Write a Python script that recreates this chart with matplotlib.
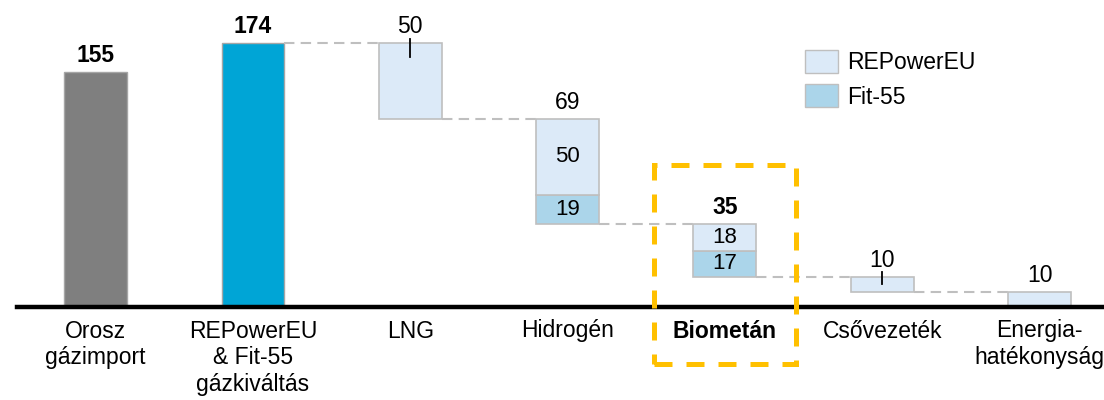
import matplotlib
matplotlib.use("Agg")
import matplotlib.pyplot as plt
from matplotlib.patches import Rectangle, Patch

plt.rcParams['font.family'] = ['Liberation Sans', 'DejaVu Sans']

# data
categories = ['Orosz\ngázimport', 'REPowerEU\n& Fit-55\ngázkiváltás', 'LNG',
              'Hidrogén', 'Biometán', 'Csővezeték', 'Energia-\nhatékonyság']
orosz_import = 155
substitution_total = 174
repower = [50, 50, 18, 10, 10]     # LNG, Hidrogén, Biometán, Csővezeték, Energia
fit55 = [0, 19, 17, 0, 0]
tick_marks = [True, False, False, True, False]
highlight = 4

c_grey = '#7f7f7f'
c_blue = '#00a5d6'
c_rep = '#dceaf8'
c_fit = '#abd5ea'
c_edge = '#bfbfbf'
c_gold = '#ffc000'
fs = 16.5
w = 0.4

fig = plt.figure(figsize=(11.04, 4), dpi=100)
ax = fig.add_axes([17/1104, 93/400, 1087/1104, 307/400])
ax.set_xlim(-0.5, 6.41)
ax.set_ylim(0, 202.4)

# start bars
ax.bar(0, orosz_import, width=w, color=c_grey, edgecolor='#a6a6a6', linewidth=1)
ax.bar(1, substitution_total, width=w, color=c_blue, edgecolor='#a6a6a6', linewidth=1)
for x, v in [(0, orosz_import), (1, substitution_total)]:
    ax.annotate(str(v), (x, v), xytext=(0, 7), textcoords='offset points',
                ha='center', va='baseline', fontsize=fs, fontweight='bold')

# waterfall steps
level = substitution_total
prev_right = 1 + w / 2
for i, (r, f) in enumerate(zip(repower, fit55)):
    x = i + 2
    total = r + f
    bottom = level - total
    # dashed connector from previous bar
    ax.plot([prev_right, x - w / 2], [level, level], color=c_edge, lw=1.5,
            linestyle=(0, (5, 3)), zorder=1)
    if f:
        ax.bar(x, f, bottom=bottom, width=w, color=c_fit, edgecolor=c_edge, linewidth=1.2, zorder=2)
    ax.bar(x, r, bottom=bottom + f, width=w, color=c_rep, edgecolor=c_edge, linewidth=1.2, zorder=2)
    if f:
        ax.text(x, bottom + f / 2, str(f), ha='center', va='center', fontsize=fs - 0.5, zorder=3)
        ax.text(x, bottom + f + r / 2, str(r), ha='center', va='center', fontsize=fs - 0.5, zorder=3)
    if tick_marks[i]:
        ax.plot([x, x], [level + 3, level - (9 if total > 20 else 5)], color='black', lw=1.3, zorder=3)
    ax.annotate(str(total), (x, level), xytext=(0, 7), textcoords='offset points',
                ha='center', va='baseline', fontsize=fs,
                fontweight='bold' if i + 2 == highlight else 'normal')
    level = bottom
    prev_right = x + w / 2

# highlight box
ax.add_patch(Rectangle((highlight - 0.45, -37.6), 0.9, 131.2, fill=False, edgecolor=c_gold,
                       lw=3.6, linestyle=(0, (3.6, 2.8)), clip_on=False, zorder=4))

# axes
for s in ['top', 'left', 'right']:
    ax.spines[s].set_visible(False)
ax.spines['bottom'].set_linewidth(3.2)
ax.spines['bottom'].set_color('black')
ax.set_yticks([])
ax.set_xticks(range(len(categories)))
ax.set_xticklabels(categories, fontsize=fs, linespacing=1.2)
ax.tick_params(axis='x', length=0, pad=9)
ax.get_xticklabels()[highlight].set_fontweight('bold')

handles = [Patch(facecolor=c_rep, edgecolor=c_edge, label='REPowerEU'),
           Patch(facecolor=c_fit, edgecolor=c_edge, label='Fit-55')]
fig.legend(handles=handles, loc='upper left', bbox_to_anchor=(805/1104, 1 - 50/400),
           frameon=False, fontsize=fs, handlelength=1.45, handleheight=1.15,
           handletextpad=0.4, labelspacing=0.45, borderpad=0, borderaxespad=0)

fig.savefig('out.png', dpi=100)
